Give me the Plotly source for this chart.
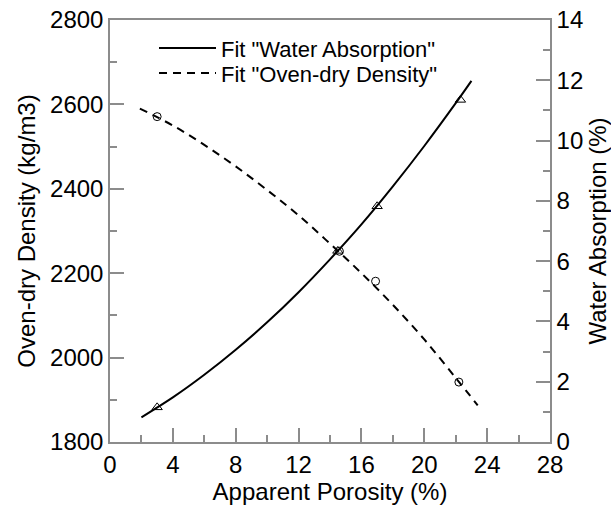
import plotly.graph_objects as go

# Measured points
wa_x = [3.0, 14.5, 17.0, 22.3]
wa_y = [1.15, 6.34, 7.82, 11.35]
dens_x = [3.0, 14.6, 16.9, 22.2]
dens_y = [2571, 2252, 2181, 1942]

# Fit curves
fit_wa_x = [2.0, 4.0, 6.0, 8.0, 10.0, 12.0, 14.0, 16.0, 18.0, 20.0, 22.0, 23.0]
fit_wa_y = [0.82, 1.48, 2.23, 3.06, 3.97, 4.97, 6.06, 7.22, 8.48, 9.82, 11.24, 11.98]
fit_d_x = [1.9, 4.0, 6.0, 8.0, 10.0, 12.0, 14.0, 16.0, 18.0, 20.0, 22.0, 23.4]
fit_d_y = [2590, 2550, 2504, 2453, 2397, 2337, 2270, 2200, 2125, 2043, 1952, 1887]

FONT = "Liberation Sans, Arial, sans-serif"
AX = "#8c8c8c"
TICK_SIZE = 24
TITLE_SIZE = 24
LEG_SIZE = 22

fig = go.Figure()
fig.add_trace(go.Scatter(x=fit_wa_x, y=fit_wa_y, mode="lines", yaxis="y2",
                         name='Fit "Water Absorption"', legend="legend",
                         line=dict(color="black", width=2, shape="spline")))
fig.add_trace(go.Scatter(x=fit_d_x, y=fit_d_y, mode="lines",
                         name='Fit "Oven-dry Density"', legend="legend2",
                         line=dict(color="black", width=2, dash="8px,6px", shape="spline")))
fig.add_trace(go.Scatter(x=wa_x, y=wa_y, mode="markers", yaxis="y2", showlegend=False,
                         marker=dict(symbol="triangle-up-open", size=9, color="black",
                                     line=dict(width=1))))
fig.add_trace(go.Scatter(x=dens_x, y=dens_y, mode="markers", showlegend=False,
                         marker=dict(symbol="circle-open", size=8, color="black",
                                     line=dict(width=1))))

common = dict(showgrid=False, zeroline=False, showline=True, linecolor=AX, linewidth=1.5,
              ticks="inside", ticklen=14, tickcolor=AX, tickwidth=1.5, automargin=False,
              tickfont=dict(family=FONT, size=TICK_SIZE, color="black"))

leg_common = dict(xanchor="left", yanchor="middle", bgcolor="rgba(0,0,0,0)",
                  font=dict(family=FONT, size=LEG_SIZE, color="black"), itemwidth=57)

fig.update_layout(
    width=611, height=511,
    margin=dict(l=110, r=61, t=20, b=69),
    plot_bgcolor="white", paper_bgcolor="white",
    font=dict(family=FONT, color="black"),
    xaxis=dict(range=[0, 28], dtick=4, mirror=True,
               title=dict(text="Apparent Porosity (%)", font=dict(family=FONT, size=TITLE_SIZE), standoff=6),
               minor=dict(dtick=2, ticks="inside", ticklen=7, tickcolor=AX, tickwidth=1.5),
               **common),
    yaxis=dict(range=[1800, 2800], dtick=200,
               title=dict(text="Oven-dry Density (kg/m3)", font=dict(family=FONT, size=TITLE_SIZE), standoff=8),
               minor=dict(dtick=100, ticks="inside", ticklen=7, tickcolor=AX, tickwidth=1.5),
               **common),
    yaxis2=dict(range=[0, 14], dtick=2, overlaying="y", side="right",
                title=dict(text="Water Absorption (%)", font=dict(family=FONT, size=TITLE_SIZE), standoff=8),
                minor=dict(dtick=1, ticks="inside", ticklen=7, tickcolor=AX, tickwidth=1.5),
                **common),
    legend=dict(x=0.10, y=0.933, **leg_common),
    legend2=dict(x=0.10, y=0.874, **leg_common),
    showlegend=True,
)

fig.write_html("out.html")
